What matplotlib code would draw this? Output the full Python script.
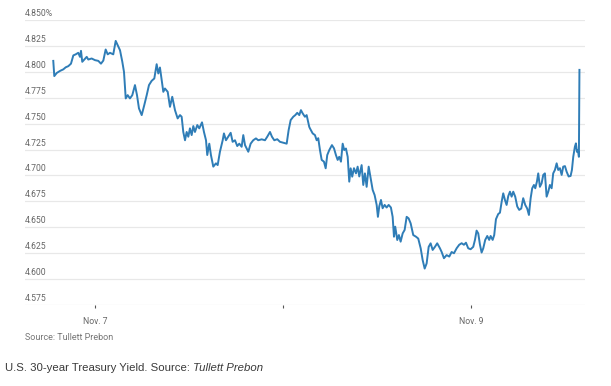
import matplotlib
matplotlib.use("Agg")
import matplotlib.pyplot as plt
import matplotlib.transforms as mtransforms

# Horas desde Nov. 7 00:00 (lectura del gráfico)
hours = [
    -5.39, -5.26, -4.95, -4.53, -4.11, -3.80, -3.47, -3.13, -2.83, -2.53,
    -2.20, -1.98, -1.85, -1.69, -1.43, -1.12, -0.92, -0.49, -0.06, 0.36,
    0.70, 1.00, 1.30, 1.56, 1.85, 2.27, 2.58, 2.83, 3.13, 3.42,
    3.64, 3.86, 4.11, 4.40, 4.70, 5.04, 5.30, 5.55, 5.90, 6.23,
    6.54, 6.83, 7.17, 7.51, 7.81, 8.02, 8.23, 8.45, 8.66, 8.87,
    9.22, 9.51, 9.80, 10.15, 10.49, 10.79, 11.00, 11.21, 11.43, 11.64,
    11.85, 12.06, 12.28, 12.49, 12.70, 13.00, 13.25, 13.60, 13.85, 14.11,
    14.27, 14.53, 14.74, 15.04, 15.38, 15.60, 15.89, 16.24, 16.40, 16.66,
    16.95, 17.26, 17.51, 17.81, 18.10, 18.36, 18.66, 18.87, 19.09, 19.51,
    19.81, 20.14, 20.49, 20.78, 21.22, 21.64, 21.93, 22.28, 22.53, 22.83,
    23.21, 23.55, 23.97, 24.41, 24.66, 24.92, 25.25, 25.51, 25.76, 26.02,
    26.23, 26.45, 26.74, 26.96, 27.29, 27.38, 27.73, 28.02, 28.24, 28.44,
    28.66, 28.88, 29.17, 29.39, 29.59, 29.85, 30.19, 30.45, 30.70, 30.92,
    31.12, 31.34, 31.56, 31.76, 31.98, 32.20, 32.40, 32.58, 32.78, 33.00,
    33.26, 33.47, 33.68, 33.98, 34.19, 34.40, 34.62, 34.88, 35.13, 35.39,
    35.64, 35.90, 36.06, 36.23, 36.45, 36.66, 36.92, 37.17, 37.43, 37.72,
    37.94, 38.11, 38.27, 38.53, 38.74, 38.96, 39.22, 39.47, 39.73, 39.98,
    40.24, 40.57, 40.92, 41.21, 41.52, 41.77, 42.03, 42.28, 42.54, 42.79,
    43.05, 43.34, 43.63, 43.98, 44.20, 44.49, 44.83, 45.17, 45.47, 45.77,
    46.11, 46.44, 46.75, 47.04, 47.30, 47.59, 47.90, 48.23, 48.45, 48.66,
    48.87, 49.09, 49.30, 49.51, 49.76, 50.02, 50.27, 50.45, 50.71, 50.91,
    51.13, 51.42, 51.64, 51.86, 52.06, 52.28, 52.49, 52.70, 52.92, 53.13,
    53.34, 53.59, 53.85, 54.10, 54.36, 54.61, 54.87, 55.12, 55.34, 55.56,
    55.76, 55.98, 56.15, 56.36, 56.53, 56.74, 56.96, 57.17, 57.38, 57.60,
    57.81, 58.02, 58.24, 58.44, 58.66, 58.88, 59.08, 59.30, 59.52, 59.72,
    59.94, 60.15, 60.41, 60.66, 60.83, 61.00, 61.21, 61.34, 61.47, 61.60,
    61.72, 61.79,
]

# Rendimiento del bono a 30 años (%)
yields = [
    4.8107, 4.796, 4.799, 4.801, 4.8025, 4.8045, 4.8056, 4.808, 4.816, 4.817,
    4.8185, 4.8146, 4.8204, 4.8098, 4.812, 4.8146, 4.812, 4.813, 4.8114, 4.8107,
    4.808, 4.811, 4.8217, 4.817, 4.8185, 4.817, 4.830, 4.8259, 4.821, 4.810,
    4.800, 4.7744, 4.7776, 4.7744, 4.7776, 4.7873, 4.7776, 4.7648, 4.7583, 4.768,
    4.7776, 4.7873, 4.7914, 4.7937, 4.8075, 4.7985, 4.8043, 4.7921, 4.7808, 4.784,
    4.7808, 4.7663, 4.776, 4.7631, 4.7551, 4.7583, 4.7567, 4.742, 4.734, 4.742,
    4.7374, 4.7455, 4.739, 4.7477, 4.742, 4.7487, 4.7455, 4.7513, 4.742, 4.734,
    4.7197, 4.7307, 4.7197, 4.7085, 4.7117, 4.710, 4.7229, 4.734, 4.7406, 4.734,
    4.7374, 4.7412, 4.7325, 4.734, 4.7284, 4.7307, 4.7277, 4.739, 4.7293, 4.7229,
    4.7307, 4.734, 4.7358, 4.734, 4.7349, 4.734, 4.7374, 4.742, 4.7374, 4.734,
    4.735, 4.7325, 4.7316, 4.7307, 4.7438, 4.7535, 4.7567, 4.7583, 4.7605, 4.7583,
    4.7631, 4.760, 4.7567, 4.7583, 4.747, 4.7455, 4.7406, 4.739, 4.734, 4.736,
    4.7245, 4.715, 4.7133, 4.7069, 4.7197, 4.7245, 4.7293, 4.7262, 4.7197, 4.715,
    4.718, 4.7133, 4.7307, 4.7245, 4.726, 4.718, 4.694, 4.7069, 4.6988, 4.707,
    4.702, 4.7085, 4.699, 4.710, 4.6908, 4.702, 4.689, 4.7085, 4.6973, 4.686,
    4.681, 4.6715, 4.660, 4.670, 4.6763, 4.6683, 4.6715, 4.669, 4.6715, 4.669,
    4.660, 4.6408, 4.6505, 4.6376, 4.6424, 4.636, 4.644, 4.6473, 4.660, 4.6585,
    4.6537, 4.6424, 4.6408, 4.639, 4.6296, 4.6183, 4.610, 4.615, 4.631, 4.6344,
    4.628, 4.631, 4.6344, 4.6296, 4.626, 4.620, 4.623, 4.6216, 4.626, 4.6248,
    4.6296, 4.633, 4.6345, 4.633, 4.635, 4.6296, 4.6287, 4.631, 4.6377, 4.6467,
    4.644, 4.633, 4.6255, 4.6296, 4.6377, 4.6415, 4.6377, 4.6415, 4.6377, 4.6424,
    4.6577, 4.6627, 4.664, 4.6746, 4.6827, 4.6763, 4.6715, 4.680, 4.6843, 4.6795,
    4.6843, 4.6795, 4.670, 4.6667, 4.668, 4.678, 4.6715, 4.668, 4.6618, 4.678,
    4.6876, 4.6908, 4.6876, 4.694, 4.702, 4.689, 4.6924, 4.7005, 4.702, 4.6795,
    4.6843, 4.6908, 4.6876, 4.702, 4.7053, 4.7117, 4.7053, 4.707, 4.7005, 4.7085,
    4.709, 4.7037, 4.699, 4.6995, 4.7053, 4.718, 4.7278, 4.731, 4.7228, 4.7245,
    4.718, 4.802,
]

y_ticks = [4.575, 4.600, 4.625, 4.650, 4.675, 4.700, 4.725, 4.750, 4.775, 4.800, 4.825, 4.850]
x_ticks = [0, 24, 48]
x_tick_labels = ["Nov. 7", "", "Nov. 9"]

line_color = "#2f7db7"
text_gray = "#666666"

plt.rcParams["font.family"] = ["Roboto", "DejaVu Sans"]

# Tamaño de la figura
fig = plt.figure(figsize=(6.11, 3.86), dpi=100)
ax = fig.add_axes([25 / 611, 81 / 386, 560 / 611, 285 / 386])

# Línea del rendimiento
ax.plot(hours, yields, color=line_color, linewidth=1.4, solid_joinstyle="round")

ax.set_xlim(-9.0, 62.5)
ax.set_ylim(4.5748, 4.8502)

# Rejilla horizontal
ax.set_yticks(y_ticks)
ax.yaxis.grid(True, color="#e8e8e8", linewidth=0.9)
ax.set_axisbelow(True)
ax.tick_params(axis="y", length=0, labelleft=False)
for sp in ax.spines.values():
    sp.set_visible(False)

# Etiquetas del eje y encima de cada línea
trans = mtransforms.blended_transform_factory(ax.transAxes, ax.transData)
offset = mtransforms.offset_copy(trans, fig=fig, x=0, y=2, units="dots")
for i, v in enumerate(y_ticks):
    label = f"{v:.3f}%" if i == len(y_ticks) - 1 else f"{v:.3f}"
    ax.text(0, v, label, transform=offset, ha="left", va="bottom",
            fontsize=6.2, color=text_gray)

# Eje x
ax.set_xticks(x_ticks)
ax.set_xticklabels(x_tick_labels)
ax.tick_params(axis="x", length=2.5, width=0.8, color="#555555",
               labelsize=6.2, labelcolor=text_gray, pad=6)

# Fuente dentro del gráfico
fig.text(25 / 611, 1 - 338 / 386, "Source: Tullett Prebon", fontsize=6.5,
         color="#777777", va="center", ha="left")

# Pie de foto
cap = fig.text(5 / 611, 1 - 368 / 386, "U.S. 30-year Treasury Yield. Source: ",
               fontsize=8.2, color="#3a3a3a", va="center", ha="left",
               family=["Liberation Sans", "DejaVu Sans"])
fig.canvas.draw()
bb = cap.get_window_extent()
fig.text(bb.x1 / fig.bbox.width, 1 - 368 / 386, "Tullett Prebon",
         fontsize=8.2, color="#3a3a3a", va="center", ha="left", style="italic",
         family=["Liberation Sans", "DejaVu Sans"])

plt.savefig("out.png", dpi=100)
